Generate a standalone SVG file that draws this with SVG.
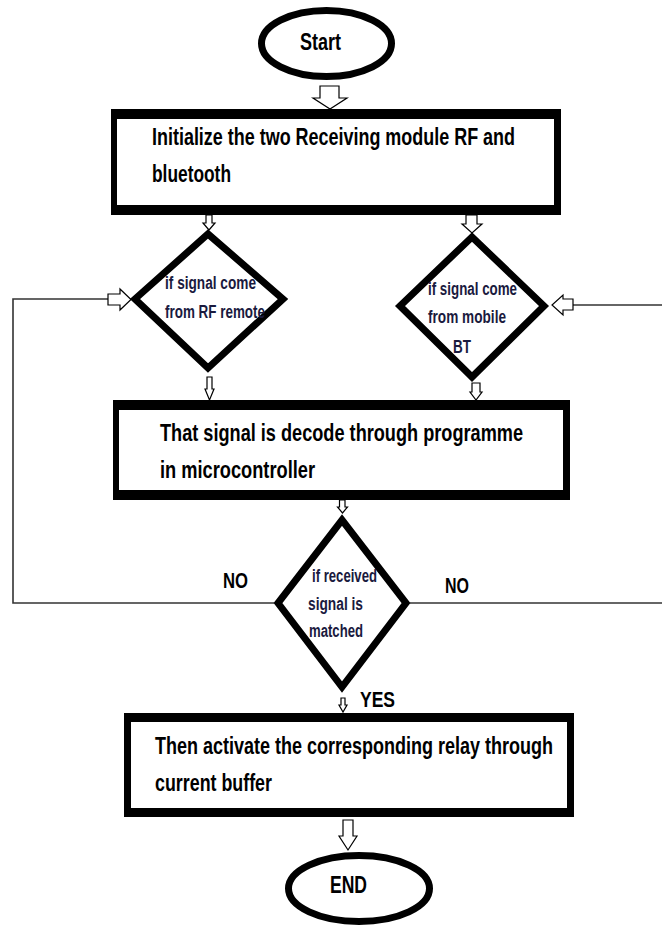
<svg xmlns="http://www.w3.org/2000/svg" width="662" height="926" viewBox="0 0 662 926">
<style>
  .term { fill: #fff; stroke: #000; stroke-width: 7; }
  .outer { fill: #000; }
  .inner { fill: #fff; }
  .dia { fill: #fff; stroke: #000; stroke-width: 7; stroke-linejoin: miter; }
  .btxt { font-family: "Liberation Sans", Arial, sans-serif; font-weight: bold; font-size: 24px; fill: #000; }
  .dtxt { font-family: "Liberation Sans", Arial, sans-serif; font-weight: bold; font-size: 18px; fill: #1a1a3e; }
  .lbl { font-family: "Liberation Sans", Arial, sans-serif; font-weight: bold; font-size: 22px; fill: #000; }
  .arr { fill: #fff; stroke: #000; stroke-width: 1.2; stroke-linejoin: miter; }
  .line { fill: none; stroke: #333; stroke-width: 1.6; }
</style>
<rect x="0" y="0" width="662" height="926" fill="#fff"/>

<g id="connectors">
  <polyline class="line" points="274,603 13,603 13,299 108,299"/>
  <line class="line" x1="410" y1="603" x2="662" y2="603"/>
  <line class="line" x1="573" y1="305" x2="662" y2="305"/>
  <path class="arr" d="M320,86 H339 V98 H347 L330,109 L313,98 H320 Z"/>
  <path class="arr" d="M206,215 H212 V223 H215 L209,230 L203,223 H206 Z"/>
  <path class="arr" d="M466,215 H477 V224 H482 L472,233 L462,224 H466 Z"/>
  <path class="arr" d="M207,377 H212 V389 H214 L209.5,400 L205,389 H207 Z"/>
  <path class="arr" d="M472,383 H480 V392 H482 L476,400 L470,392 H472 Z"/>
  <path class="arr" d="M339.5,500 H345 V507 H347.5 L342.5,513 L337.5,507 H339.5 Z"/>
  <path class="arr" d="M341,698 H345 V705 H347 L343,712 L339,705 H341 Z"/>
  <path class="arr" d="M343,820 H353 V836 H357 L348,850 L339,836 H343 Z"/>
  <path class="arr" d="M108,294 V305 H120 V310 L131,299.5 L120,289 V294 Z"/>
  <path class="arr" d="M573,299 V310 H563 V315 L552,305 L563,295 V299 Z"/>
  <text class="lbl" x="223" y="588" textLength="25" lengthAdjust="spacingAndGlyphs">NO</text>
  <text class="lbl" x="445" y="593" textLength="24" lengthAdjust="spacingAndGlyphs">NO</text>
  <text class="lbl" x="360" y="707" textLength="35" lengthAdjust="spacingAndGlyphs">YES</text>
</g>

<g id="start">
  <ellipse class="term" cx="326.5" cy="43.5" rx="65" ry="33"/>
  <text class="btxt" x="300" y="50" font-size="23" textLength="41" lengthAdjust="spacingAndGlyphs">Start</text>
</g>

<g id="init">
  <rect class="outer" x="111" y="109" width="450" height="106"/>
  <rect class="inner" x="117" y="119" width="437" height="86"/>
  <text class="btxt" x="152" y="145" textLength="363" lengthAdjust="spacingAndGlyphs">Initialize the two Receiving module RF and</text>
  <text class="btxt" x="152" y="182" textLength="79" lengthAdjust="spacingAndGlyphs">bluetooth</text>
</g>

<g id="rf">
  <polygon class="dia" points="208,234 283,299 208,368 135,299"/>
  <text class="dtxt" x="165" y="289" textLength="91" lengthAdjust="spacingAndGlyphs">if signal come</text>
  <text class="dtxt" x="165" y="318" textLength="100" lengthAdjust="spacingAndGlyphs">from RF remote</text>
</g>

<g id="bt">
  <polygon class="dia" points="472,237 544,306 472,377 400,306"/>
  <text class="dtxt" x="428" y="295" textLength="89" lengthAdjust="spacingAndGlyphs">if signal come</text>
  <text class="dtxt" x="428" y="323" textLength="78" lengthAdjust="spacingAndGlyphs">from mobile</text>
  <text class="dtxt" x="453" y="353" textLength="18" lengthAdjust="spacingAndGlyphs">BT</text>
</g>

<g id="decode">
  <rect class="outer" x="113" y="400" width="457" height="100"/>
  <rect class="inner" x="119" y="410" width="444" height="80"/>
  <text class="btxt" x="160" y="441" textLength="363" lengthAdjust="spacingAndGlyphs">That signal is decode through programme</text>
  <text class="btxt" x="160" y="478" textLength="155" lengthAdjust="spacingAndGlyphs">in microcontroller</text>
</g>

<g id="match">
  <polygon class="dia" points="342,520 406,603 342,687 278,603"/>
  <text class="dtxt" x="312" y="582" textLength="65" lengthAdjust="spacingAndGlyphs">if received</text>
  <text class="dtxt" x="308" y="610" textLength="55" lengthAdjust="spacingAndGlyphs">signal is</text>
  <text class="dtxt" x="309" y="637" textLength="54" lengthAdjust="spacingAndGlyphs">matched</text>
</g>

<g id="activate">
  <rect class="outer" x="124" y="713" width="450" height="104"/>
  <rect class="inner" x="131" y="722" width="436" height="86"/>
  <text class="btxt" x="155" y="754" textLength="398" lengthAdjust="spacingAndGlyphs">Then activate the corresponding relay through</text>
  <text class="btxt" x="155" y="791" textLength="117" lengthAdjust="spacingAndGlyphs">current buffer</text>
</g>

<g id="end">
  <ellipse class="term" cx="359" cy="888.5" rx="70.5" ry="33"/>
  <text class="btxt" x="330" y="893" font-size="23" textLength="37" lengthAdjust="spacingAndGlyphs">END</text>
</g>
</svg>
